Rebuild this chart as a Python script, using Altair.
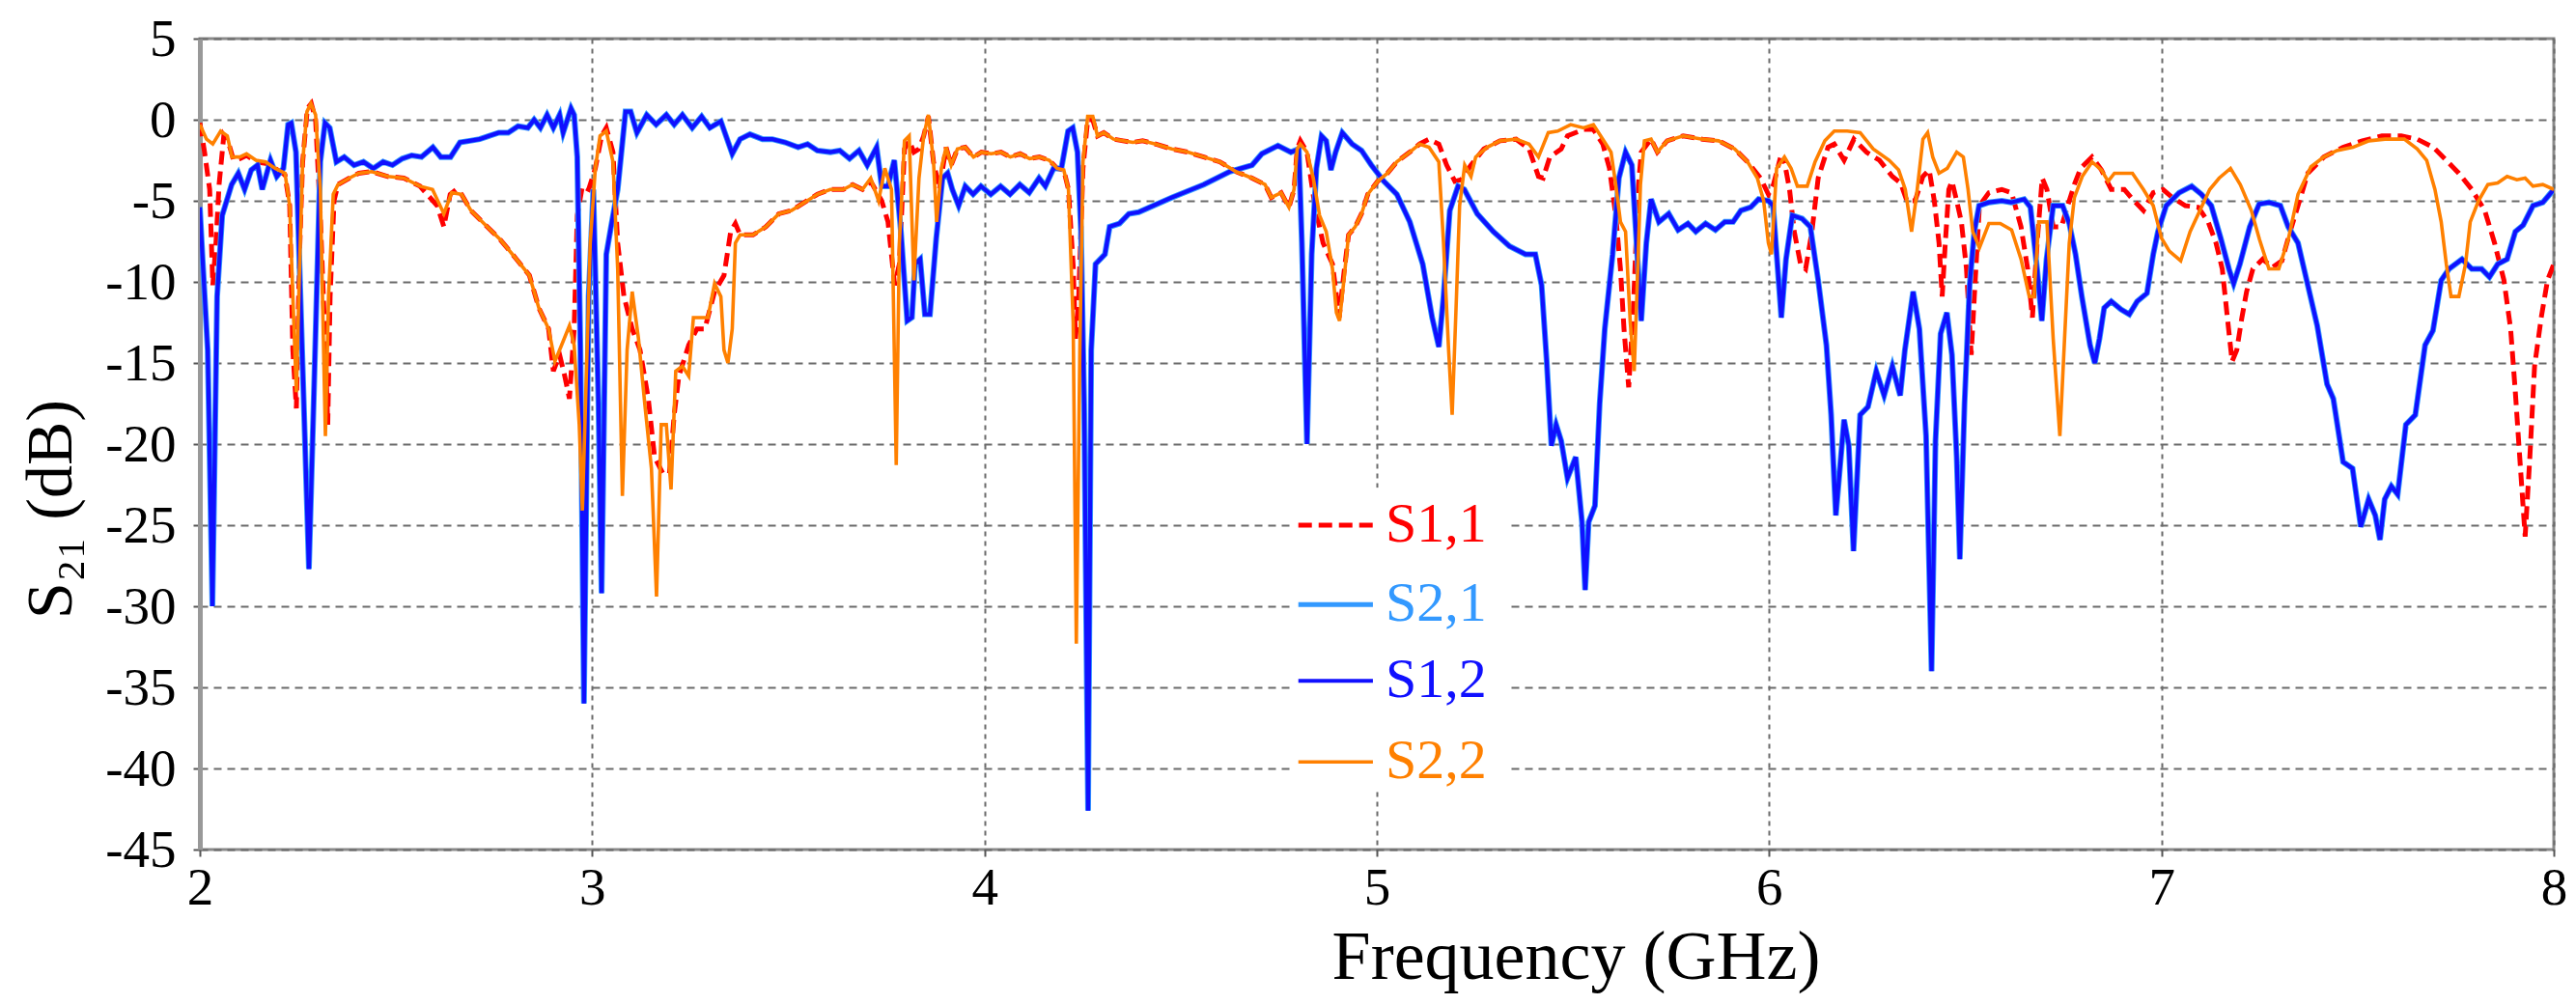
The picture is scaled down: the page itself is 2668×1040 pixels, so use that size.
import altair as alt
import pandas as pd

# ---------------- data ----------------
FREQ_TICKS = [2, 3, 4, 5, 6, 7, 8]
DB_TICKS = [5, 0, -5, -10, -15, -20, -25, -30, -35, -40, -45]
SERIES = ["S1,1", "S2,1", "S1,2", "S2,2"]
COLORS = ["#ff0000", "#3399ff", "#1010ff", "#ff8000"]

# S1,2 (blue)
s12_f = [2.000, 2.007, 2.020, 2.032, 2.044, 2.057, 2.081, 2.098, 2.114, 2.131, 2.147, 2.159, 2.180, 2.196, 2.213,
         2.225, 2.233, 2.245, 2.262, 2.278, 2.290, 2.307, 2.319, 2.331, 2.348, 2.368, 2.393, 2.417, 2.442, 2.467,
         2.491, 2.516, 2.540, 2.565, 2.594, 2.614, 2.639, 2.663, 2.688, 2.713, 2.737, 2.762, 2.786, 2.811, 2.836,
         2.852, 2.868, 2.885, 2.901, 2.917, 2.926, 2.946, 2.954, 2.962, 2.970, 2.979, 2.991, 3.003, 3.016, 3.024,
         3.036, 3.048, 3.065, 3.085, 3.098, 3.114, 3.139, 3.163, 3.189, 3.209, 3.230, 3.255, 3.279, 3.300, 3.328,
         3.341, 3.357, 3.377, 3.402, 3.434, 3.459, 3.492, 3.525, 3.549, 3.574, 3.607, 3.631, 3.656, 3.680, 3.701,
         3.725, 3.738, 3.754, 3.770, 3.787, 3.803, 3.815, 3.823, 3.836, 3.848, 3.861, 3.877, 3.893, 3.906, 3.918,
         3.934, 3.951, 3.971, 3.991, 4.016, 4.041, 4.065, 4.090, 4.114, 4.139, 4.155, 4.176, 4.196, 4.213, 4.225,
         4.237, 4.246, 4.254, 4.264, 4.272, 4.283, 4.307, 4.319, 4.344, 4.368, 4.393, 4.477, 4.559, 4.625, 4.682,
         4.707, 4.748, 4.781, 4.801, 4.809, 4.822, 4.834, 4.846, 4.859, 4.871, 4.883, 4.895, 4.912, 4.937, 4.961,
         4.986, 5.018, 5.051, 5.084, 5.117, 5.141, 5.158, 5.170, 5.186, 5.207, 5.223, 5.256, 5.297, 5.338, 5.379,
         5.404, 5.420, 5.433, 5.445, 5.457, 5.470, 5.486, 5.507, 5.523, 5.531, 5.540, 5.556, 5.568, 5.581, 5.601,
         5.617, 5.634, 5.650, 5.662, 5.674, 5.687, 5.699, 5.719, 5.744, 5.768, 5.793, 5.813, 5.838, 5.863, 5.887,
         5.908, 5.928, 5.953, 5.973, 5.998, 6.010, 6.031, 6.043, 6.059, 6.084, 6.105, 6.125, 6.146, 6.158, 6.170,
         6.191, 6.203, 6.215, 6.232, 6.252, 6.273, 6.293, 6.314, 6.334, 6.346, 6.367, 6.383, 6.400, 6.414, 6.424,
         6.437, 6.453, 6.466, 6.478, 6.486, 6.498, 6.511, 6.523, 6.535, 6.560, 6.593, 6.617, 6.650, 6.666, 6.683,
         6.695, 6.707, 6.724, 6.748, 6.765, 6.781, 6.797, 6.818, 6.830, 6.842, 6.854, 6.872, 6.897, 6.918, 6.938,
         6.963, 6.979, 6.991, 7.012, 7.045, 7.077, 7.102, 7.127, 7.151, 7.172, 7.184, 7.200, 7.225, 7.249, 7.274,
         7.303, 7.323, 7.348, 7.373, 7.397, 7.422, 7.438, 7.463, 7.487, 7.508, 7.528, 7.545, 7.557, 7.569, 7.586,
         7.602, 7.623, 7.647, 7.672, 7.692, 7.713, 7.733, 7.766, 7.791, 7.816, 7.836, 7.857, 7.881, 7.902, 7.922,
         7.947, 7.972, 8.000]
s12_db = [-5.4, -8.6, -14.2, -30.0, -10.9, -5.9, -4.0, -3.3, -4.3, -3.1, -2.8, -4.3, -2.5, -3.5, -3.0,
          -0.3, -0.2, -2.0, -15.2, -27.7, -17.5, -2.6, -0.2, -0.5, -2.6, -2.3, -2.8, -2.6, -3.0, -2.6,
          -2.8, -2.4, -2.2, -2.3, -1.7, -2.3, -2.3, -1.4, -1.3, -1.2, -1.0, -0.8, -0.8, -0.4, -0.5,
          0.0, -0.5, 0.3, -0.5, 0.3, -0.8, 0.7, 0.3, -2.3, -14.2, -36.0, -10.9, -4.3, -17.5, -29.2,
          -8.3, -6.6, -4.3, 0.5, 0.5, -0.8, 0.3, -0.3, 0.3, -0.3, 0.3, -0.5, 0.2, -0.5, -0.1,
          -1.0, -2.1, -1.2, -0.9, -1.2, -1.2, -1.4, -1.7, -1.5, -1.9, -2.0, -1.9, -2.4, -1.9, -2.8,
          -1.7, -4.1, -4.1, -2.5, -6.9, -12.4, -12.2, -8.9, -8.6, -12.0, -12.0, -7.3, -3.6, -3.3, -4.3,
          -5.3, -4.1, -4.6, -4.1, -4.6, -4.1, -4.6, -4.0, -4.5, -3.6, -4.1, -3.0, -3.0, -0.7, -0.5,
          -2.0, -6.9, -17.5, -42.6, -14.2, -8.9, -8.3, -6.6, -6.4, -5.8, -5.7, -4.8, -4.0, -3.2, -2.8,
          -2.1, -1.6, -2.0, -1.8, -7.6, -20.0, -8.3, -3.0, -1.0, -1.3, -3.1, -2.0, -0.8, -1.5, -1.9,
          -2.8, -3.8, -4.6, -6.3, -8.9, -12.2, -14.0, -10.9, -5.6, -4.1, -4.3, -5.8, -6.9, -7.8, -8.3,
          -8.3, -10.2, -14.9, -20.1, -18.8, -19.8, -22.1, -20.8, -24.8, -29.0, -24.8, -23.8, -17.5, -12.9, -8.3,
          -3.6, -2.0, -2.8, -7.6, -12.4, -7.6, -4.9, -6.3, -5.8, -6.8, -6.4, -6.9, -6.4, -6.8, -6.3,
          -6.3, -5.6, -5.4, -4.9, -5.0, -5.3, -12.2, -8.6, -5.9, -6.1, -6.6, -9.9, -13.9, -18.2, -24.4,
          -18.5, -20.1, -26.6, -18.2, -17.7, -15.5, -17.0, -15.2, -17.0, -14.2, -10.6, -12.9, -19.5, -34.0, -19.8,
          -13.2, -11.9, -14.5, -20.8, -27.1, -17.5, -10.2, -6.9, -5.3, -5.1, -5.0, -5.1, -4.9, -5.4, -9.2,
          -12.4, -8.6, -5.3, -5.3, -6.4, -8.3, -10.9, -13.9, -15.0, -13.5, -11.6, -11.2, -11.7, -12.0, -11.2,
          -10.7, -8.3, -6.9, -5.3, -4.5, -4.1, -4.6, -5.3, -7.3, -9.2, -10.1, -8.9, -6.6, -5.2, -5.1,
          -5.3, -6.6, -7.6, -10.2, -12.7, -16.3, -17.2, -21.1, -21.5, -25.1, -23.4, -24.4, -25.9, -23.4, -22.6,
          -23.1, -18.8, -18.2, -13.9, -13.0, -9.9, -9.2, -8.6, -9.2, -9.2, -9.7, -8.9, -8.6, -6.9, -6.5,
          -5.3, -5.1, -4.3]

# S2,1 (light blue) lies on top of S1,2 in the reference
s21_f = list(s12_f)
s21_db = list(s12_db)

# S2,2 (orange)
s22_f = [2.000, 2.017, 2.033, 2.053, 2.070, 2.082, 2.102, 2.119, 2.143, 2.168, 2.192, 2.217, 2.229, 2.237, 2.246,
         2.254, 2.262, 2.273, 2.283, 2.295, 2.307, 2.316, 2.320, 2.328, 2.340, 2.352, 2.381, 2.405, 2.438, 2.479,
         2.520, 2.561, 2.593, 2.622, 2.642, 2.667, 2.691, 2.724, 2.766, 2.807, 2.840, 2.864, 2.889, 2.905, 2.922,
         2.942, 2.954, 2.967, 2.975, 2.983, 2.995, 3.008, 3.020, 3.036, 3.053, 3.065, 3.077, 3.089, 3.102, 3.118,
         3.134, 3.151, 3.164, 3.176, 3.189, 3.201, 3.213, 3.230, 3.246, 3.258, 3.279, 3.295, 3.312, 3.328, 3.336,
         3.346, 3.357, 3.365, 3.377, 3.410, 3.443, 3.476, 3.508, 3.541, 3.574, 3.607, 3.640, 3.664, 3.689, 3.710,
         3.730, 3.746, 3.763, 3.775, 3.783, 3.796, 3.808, 3.820, 3.833, 3.845, 3.857, 3.870, 3.878, 3.890, 3.902,
         3.915, 3.931, 3.951, 3.972, 3.992, 4.017, 4.042, 4.066, 4.091, 4.115, 4.140, 4.165, 4.185, 4.202, 4.214,
         4.226, 4.234, 4.243, 4.251, 4.263, 4.276, 4.288, 4.304, 4.329, 4.353, 4.378, 4.403, 4.436, 4.477, 4.518,
         4.559, 4.600, 4.641, 4.682, 4.715, 4.731, 4.756, 4.776, 4.789, 4.797, 4.805, 4.822, 4.838, 4.854, 4.871,
         4.887, 4.897, 4.905, 4.916, 4.928, 4.945, 4.961, 4.977, 5.002, 5.027, 5.051, 5.084, 5.109, 5.133, 5.158,
         5.170, 5.183, 5.192, 5.203, 5.211, 5.224, 5.240, 5.252, 5.281, 5.314, 5.355, 5.388, 5.412, 5.437, 5.461,
         5.494, 5.527, 5.552, 5.576, 5.597, 5.609, 5.621, 5.634, 5.646, 5.656, 5.664, 5.672, 5.682, 5.699, 5.715,
         5.740, 5.781, 5.830, 5.871, 5.912, 5.945, 5.970, 5.986, 5.998, 6.006, 6.019, 6.039, 6.056, 6.072, 6.097,
         6.117, 6.142, 6.166, 6.199, 6.232, 6.265, 6.306, 6.330, 6.347, 6.363, 6.376, 6.392, 6.404, 6.417, 6.433,
         6.454, 6.478, 6.495, 6.507, 6.519, 6.536, 6.560, 6.589, 6.618, 6.642, 6.663, 6.675, 6.687, 6.708, 6.724,
         6.741, 6.753, 6.765, 6.778, 6.798, 6.823, 6.847, 6.864, 6.880, 6.901, 6.926, 6.954, 6.979, 7.000, 7.020,
         7.049, 7.073, 7.094, 7.123, 7.147, 7.176, 7.201, 7.229, 7.250, 7.274, 7.299, 7.324, 7.348, 7.381, 7.414,
         7.447, 7.488, 7.529, 7.570, 7.619, 7.652, 7.676, 7.697, 7.713, 7.726, 7.738, 7.758, 7.775, 7.787, 7.808,
         7.832, 7.857, 7.881, 7.906, 7.927, 7.947, 7.972, 8.000]
s22_db = [-0.3, -1.2, -1.5, -0.7, -1.0, -2.3, -2.3, -2.1, -2.5, -2.6, -3.0, -3.3, -5.3, -10.9, -16.8,
          -9.2, -2.6, 0.5, 1.0, 0.3, -4.3, -14.9, -19.5, -10.9, -4.6, -4.0, -3.6, -3.3, -3.2, -3.5,
          -3.6, -4.1, -4.3, -5.8, -4.5, -4.6, -5.6, -6.4, -7.4, -8.6, -9.6, -11.6, -12.9, -14.9, -13.9,
          -12.7, -13.9, -18.8, -24.1, -17.5, -7.6, -3.0, -1.0, -0.7, -2.6, -9.2, -23.2, -14.2, -10.6, -13.5,
          -17.5, -21.5, -29.4, -18.8, -18.8, -22.8, -15.5, -15.2, -15.8, -12.2, -12.2, -12.2, -10.1, -10.9, -14.2,
          -15.0, -12.9, -7.6, -7.1, -7.1, -6.6, -5.8, -5.6, -5.1, -4.6, -4.3, -4.3, -4.0, -4.3, -3.6,
          -5.0, -3.0, -4.3, -21.3, -7.6, -1.3, -1.0, -9.9, -3.6, -1.0, 0.3, -2.6, -6.3, -3.0, -1.7,
          -2.8, -1.8, -1.7, -2.3, -2.0, -2.1, -2.0, -2.3, -2.1, -2.4, -2.3, -2.5, -3.0, -3.1, -4.3,
          -12.5, -32.3, -14.2, -2.6, 0.2, 0.2, -1.0, -0.8, -1.2, -1.3, -1.4, -1.3, -1.5, -1.8, -2.0,
          -2.3, -2.6, -3.2, -3.6, -4.0, -4.8, -4.5, -5.4, -4.3, -1.8, -1.5, -2.0, -3.6, -5.9, -6.9,
          -9.2, -11.9, -12.4, -9.9, -7.1, -6.6, -5.8, -4.6, -3.8, -3.3, -2.6, -2.0, -1.5, -1.7, -2.6,
          -7.6, -14.2, -18.2, -10.9, -5.3, -2.8, -3.5, -2.3, -1.7, -1.3, -1.2, -1.5, -2.3, -0.8, -0.7,
          -0.3, -0.5, -0.3, -1.2, -2.0, -4.0, -6.3, -6.9, -12.5, -15.5, -10.0, -4.0, -1.3, -1.2, -2.0,
          -1.3, -1.0, -1.2, -1.3, -1.8, -2.6, -3.6, -5.0, -7.6, -8.3, -3.0, -2.3, -3.0, -4.1, -4.1,
          -2.6, -1.3, -0.7, -0.7, -0.8, -1.8, -2.5, -3.1, -4.3, -6.9, -4.6, -1.2, -0.8, -2.3, -3.3,
          -3.0, -2.0, -2.3, -4.3, -6.9, -7.9, -6.4, -6.4, -6.8, -8.6, -10.9, -10.9, -6.3, -6.3, -13.5,
          -19.5, -13.5, -7.6, -4.8, -3.5, -2.6, -3.1, -3.8, -3.3, -3.3, -3.3, -4.3, -5.3, -7.3, -8.1,
          -8.7, -6.9, -5.8, -4.3, -3.6, -3.0, -4.0, -5.6, -7.4, -9.2, -9.2, -7.3, -4.6, -2.9, -2.3,
          -1.9, -1.7, -1.3, -1.2, -1.2, -1.8, -2.5, -4.3, -6.3, -8.9, -10.9, -10.9, -8.9, -6.3, -5.0,
          -4.0, -3.9, -3.5, -3.7, -3.6, -4.1, -4.0, -4.3]

# S1,1 (red dashed)
s11_f = [2.000, 2.012, 2.025, 2.033, 2.041, 2.049, 2.061, 2.074, 2.086, 2.102, 2.119, 2.143, 2.168, 2.192, 2.217,
         2.229, 2.237, 2.246, 2.254, 2.262, 2.274, 2.284, 2.295, 2.307, 2.320, 2.326, 2.332, 2.342, 2.352, 2.381,
         2.405, 2.438, 2.479, 2.520, 2.561, 2.605, 2.622, 2.638, 2.654, 2.667, 2.691, 2.724, 2.766, 2.807, 2.840,
         2.864, 2.889, 2.901, 2.917, 2.930, 2.942, 2.954, 2.962, 2.975, 2.991, 3.008, 3.024, 3.036, 3.053, 3.065,
         3.081, 3.102, 3.122, 3.143, 3.159, 3.180, 3.197, 3.209, 3.221, 3.246, 3.267, 3.287, 3.312, 3.336, 3.353,
         3.365, 3.377, 3.410, 3.443, 3.476, 3.508, 3.541, 3.574, 3.607, 3.640, 3.664, 3.689, 3.710, 3.738, 3.754,
         3.771, 3.783, 3.796, 3.808, 3.820, 3.833, 3.845, 3.857, 3.870, 3.885, 3.902, 3.915, 3.931, 3.951, 3.972,
         3.992, 4.017, 4.042, 4.066, 4.091, 4.115, 4.140, 4.165, 4.185, 4.202, 4.214, 4.226, 4.232, 4.240, 4.251,
         4.263, 4.276, 4.288, 4.304, 4.329, 4.353, 4.378, 4.403, 4.436, 4.477, 4.518, 4.559, 4.600, 4.641, 4.682,
         4.715, 4.731, 4.756, 4.776, 4.789, 4.797, 4.805, 4.822, 4.842, 4.863, 4.887, 4.904, 4.916, 4.928, 4.945,
         4.961, 4.977, 5.002, 5.027, 5.051, 5.084, 5.109, 5.133, 5.158, 5.178, 5.199, 5.215, 5.240, 5.273, 5.314,
         5.355, 5.388, 5.412, 5.424, 5.441, 5.470, 5.486, 5.527, 5.552, 5.576, 5.593, 5.609, 5.621, 5.630, 5.642,
         5.654, 5.666, 5.674, 5.699, 5.715, 5.740, 5.781, 5.830, 5.871, 5.912, 5.945, 5.978, 5.998, 6.011, 6.027,
         6.039, 6.052, 6.064, 6.080, 6.093, 6.109, 6.125, 6.150, 6.166, 6.191, 6.216, 6.248, 6.281, 6.314, 6.335,
         6.351, 6.372, 6.392, 6.408, 6.421, 6.433, 6.441, 6.449, 6.458, 6.466, 6.478, 6.490, 6.503, 6.515, 6.523,
         6.536, 6.560, 6.593, 6.618, 6.642, 6.659, 6.671, 6.683, 6.696, 6.708, 6.724, 6.745, 6.761, 6.778, 6.794,
         6.823, 6.847, 6.872, 6.905, 6.930, 6.954, 6.979, 7.004, 7.028, 7.061, 7.094, 7.119, 7.139, 7.155, 7.168,
         7.180, 7.192, 7.205, 7.217, 7.233, 7.258, 7.283, 7.307, 7.328, 7.348, 7.373, 7.414, 7.463, 7.512, 7.562,
         7.611, 7.652, 7.693, 7.726, 7.758, 7.791, 7.824, 7.849, 7.873, 7.890, 7.902, 7.914, 7.927, 7.939, 7.951,
         7.968, 7.984, 8.000]
s11_db = [-0.2, -2.0, -4.3, -10.2, -7.6, -4.0, -1.0, -1.5, -2.5, -2.4, -2.2, -2.6, -2.7, -3.0, -3.4,
          -5.3, -14.2, -17.8, -8.3, -2.6, 0.7, 1.0, 0.0, -5.9, -14.2, -18.8, -10.9, -5.0, -4.0, -3.6,
          -3.3, -3.2, -3.5, -3.6, -4.1, -5.3, -6.6, -4.6, -4.3, -4.6, -5.6, -6.4, -7.4, -8.6, -9.6,
          -11.6, -12.9, -15.5, -14.5, -15.8, -17.2, -12.9, -5.9, -4.1, -4.3, -3.0, -1.0, -0.5, -2.0, -7.6,
          -10.9, -12.9, -14.2, -17.2, -20.8, -21.8, -21.8, -18.2, -15.8, -13.9, -12.9, -12.9, -10.6, -9.6, -6.9,
          -6.4, -7.1, -7.1, -6.6, -5.8, -5.6, -5.1, -4.6, -4.3, -4.3, -4.0, -4.3, -3.8, -5.0, -6.3,
          -10.2, -8.9, -1.8, -1.3, -2.0, -1.8, -1.0, 0.2, -2.6, -4.3, -1.7, -2.8, -1.8, -1.7, -2.3,
          -2.0, -2.1, -2.0, -2.3, -2.1, -2.4, -2.3, -2.5, -3.0, -3.1, -4.3, -9.0, -13.5, -11.0, -3.0,
          0.0, 0.0, -1.0, -0.8, -1.2, -1.3, -1.4, -1.3, -1.5, -1.8, -2.0, -2.3, -2.6, -3.2, -3.6,
          -4.0, -4.8, -4.5, -5.4, -4.3, -1.8, -1.3, -2.0, -5.3, -7.6, -8.9, -12.2, -9.5, -7.1, -6.6,
          -5.8, -4.6, -3.8, -3.3, -2.6, -2.0, -1.5, -1.2, -1.5, -2.8, -3.8, -3.7, -2.8, -1.8, -1.3,
          -1.2, -1.8, -3.5, -3.6, -2.3, -1.8, -1.0, -0.6, -0.6, -1.5, -3.0, -5.9, -9.2, -12.9, -16.5,
          -11.6, -4.3, -2.0, -1.2, -2.0, -1.3, -1.0, -1.2, -1.3, -1.8, -2.6, -3.6, -4.6, -4.0, -2.5,
          -2.6, -4.3, -6.9, -8.9, -9.2, -6.9, -3.6, -1.7, -1.5, -2.5, -1.2, -2.0, -2.5, -3.5, -3.9,
          -5.0, -5.0, -3.5, -3.1, -5.0, -7.6, -10.9, -7.6, -4.3, -3.8, -5.0, -6.3, -9.2, -14.5, -10.9,
          -5.3, -4.5, -4.3, -4.5, -6.6, -9.2, -12.2, -7.6, -3.6, -4.3, -6.6, -6.6, -5.3, -4.0, -3.0,
          -2.3, -3.1, -4.3, -4.3, -5.0, -5.6, -4.5, -4.3, -4.8, -5.3, -5.4, -6.3, -7.6, -9.2, -12.2,
          -14.9, -14.2, -12.2, -10.6, -9.2, -8.6, -9.1, -8.7, -6.9, -5.3, -3.3, -2.3, -1.7, -1.3, -1.0,
          -1.0, -1.2, -1.7, -2.5, -3.3, -4.3, -5.6, -7.6, -9.9, -12.9, -16.8, -21.1, -25.7, -20.8, -15.2,
          -12.2, -9.9, -8.9]

# ---------------- layout constants ----------------
FONT = "Liberation Serif"
LEG_X0, LEG_X1, LEG_XT = 4.80, 4.99, 5.022          # legend sample line / label start (GHz)
LEG_ROWS = [-25.0, -29.9, -34.6, -39.6]              # legend row centres (dB)
LEG_BOX = (4.781, 5.337, -22.7, -41.4)

x_scale = alt.Scale(domain=[2, 8], nice=False, zero=False)
y_scale = alt.Scale(domain=[-45, 5], nice=False, zero=False)

x_axis = alt.Axis(values=FREQ_TICKS, title="Frequency (GHz)", labelExpr="'' + datum.value",
                  labelFont=FONT, labelFontSize=55, labelColor="#000", labelPadding=6,
                  labelFlush=False, labelOverlap=False,
                  titleFont=FONT, titleFontSize=72, titleFontWeight="normal", titleColor="#000",
                  titleX=1425, titleY=133, titleAlign="center", titleBaseline="alphabetic",
                  grid=True, gridColor="#6a6a6a", gridDash=[5, 5], gridWidth=2,
                  ticks=True, tickSize=7, tickColor="#555", tickWidth=2, domain=False)
y_axis = alt.Axis(values=DB_TICKS, title="S₂₁ (dB)", labelExpr="'' + datum.value",
                  labelFont=FONT, labelFontSize=55, labelColor="#000", labelPadding=18,
                  labelFlush=False, labelOverlap=False,
                  titleFont=FONT, titleFontSize=68, titleFontWeight="normal", titleColor="#000",
                  titleAngle=270, titleX=-134, titleY=487, titleAlign="center", titleBaseline="alphabetic",
                  grid=True, gridColor="#6a6a6a", gridDash=[8, 6], gridWidth=2,
                  ticks=True, tickSize=7, tickColor="#555", tickWidth=2,
                  domain=True, domainColor="#999", domainWidth=5)


def line_layer(freq, db, color, width, dash=None):
    df = pd.DataFrame({"f": freq, "v": db})
    kw = dict(color=color, strokeWidth=width, clip=True)
    if dash:
        kw["strokeDash"] = dash
    return alt.Chart(df).mark_line(**kw).encode(
        x=alt.X("f:Q", scale=x_scale, axis=x_axis),
        y=alt.Y("v:Q", scale=y_scale, axis=y_axis),
    )


lines = [
    line_layer(s11_f, s11_db, COLORS[0], 5, [14, 7]),
    line_layer(s21_f, s21_db, COLORS[1], 6),
    line_layer(s12_f, s12_db, COLORS[2], 4.2),
    line_layer(s22_f, s22_db, COLORS[3], 3.6),
]

# legend (drawn with the chart's own scales)
box = alt.Chart(pd.DataFrame({"x0": [LEG_BOX[0]], "x1": [LEG_BOX[1]],
                              "y0": [LEG_BOX[2]], "y1": [LEG_BOX[3]]})).mark_rect(
    fill="white").encode(
    x=alt.X("x0:Q", scale=x_scale, axis=x_axis), x2="x1:Q",
    y=alt.Y("y0:Q", scale=y_scale, axis=y_axis), y2="y1:Q")

leg_styles = [dict(strokeWidth=5, strokeDash=[14, 7]), dict(strokeWidth=5), dict(strokeWidth=4),
              dict(strokeWidth=3.5)]
leg_rules = []
for name, col, yv, st in zip(SERIES, COLORS, LEG_ROWS, leg_styles):
    leg_rules.append(
        alt.Chart(pd.DataFrame({"x0": [LEG_X0], "x1": [LEG_X1], "y": [yv]})).mark_rule(
            color=col, **st).encode(
            x=alt.X("x0:Q", scale=x_scale, axis=x_axis), x2="x1:Q",
            y=alt.Y("y:Q", scale=y_scale, axis=y_axis)))

leg_df = pd.DataFrame({"x": [LEG_XT] * 4, "y": LEG_ROWS, "label": SERIES})
leg_text = alt.Chart(leg_df).mark_text(align="left", baseline="middle", font=FONT, fontSize=58).encode(
    x=alt.X("x:Q", scale=x_scale, axis=x_axis),
    y=alt.Y("y:Q", scale=y_scale, axis=y_axis),
    text="label:N",
    color=alt.Color("label:N", scale=alt.Scale(domain=SERIES, range=COLORS), legend=None),
)

chart = alt.layer(*lines, box, *leg_rules, leg_text).properties(
    width=2438, height=840,
    autosize=alt.AutoSizeParams(type="none"),
    padding={"left": 199, "top": 32, "right": 15, "bottom": 152},
    background="white",
).configure_view(stroke="#8a8a8a", strokeWidth=3)

chart.save("out.html", embed_options={"renderer": "svg", "actions": False})
